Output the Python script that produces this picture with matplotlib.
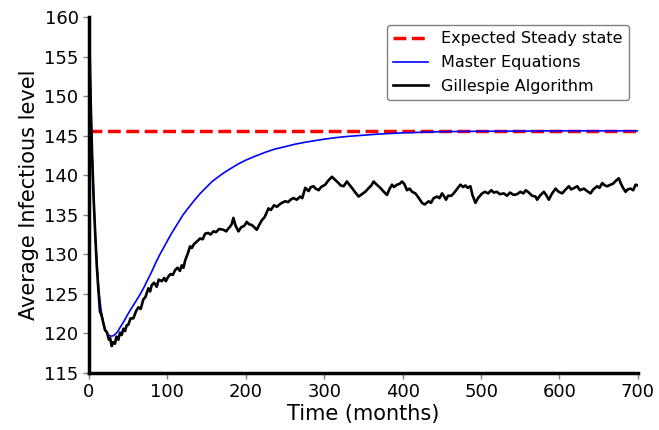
import matplotlib
matplotlib.use("Agg")
from matplotlib import pyplot as plt

# steady state level
steady_state = 145.6

# master equations
me_t = [0, 1, 2, 3, 4, 5, 6, 7, 8, 9, 10, 12, 14, 16, 18, 20, 22, 25, 28, 31,
        34, 37, 40, 45, 50, 55, 60, 65, 70, 75, 80, 85, 90, 95, 100, 105, 110,
        115, 120, 127, 135, 142, 150, 157, 165, 172, 180, 190, 200, 212, 225,
        237, 250, 262, 275, 287, 300, 315, 330, 350, 370, 400, 450, 500, 600,
        700]
me_y = [160, 155, 150.5, 146.5, 143, 140, 137.3, 134.9, 132.7, 130.7, 129,
        126.2, 124.1, 122.6, 121.5, 120.7, 120.2, 119.8, 119.65, 119.7, 119.95,
        120.3, 120.8, 121.6, 122.5, 123.3, 124.1, 124.9, 125.8, 126.8, 127.8,
        128.9, 129.9, 130.8, 131.7, 132.6, 133.4, 134.2, 135.0, 135.9, 136.9,
        137.7, 138.5, 139.2, 139.8, 140.3, 140.8, 141.4, 141.9, 142.4, 142.9,
        143.3, 143.6, 143.9, 144.15, 144.35, 144.55, 144.75, 144.9, 145.05,
        145.2, 145.35, 145.5, 145.55, 145.6, 145.6]

# gillespie algorithm
gi_t = [0, 2, 4, 6, 8, 10, 12, 14, 16, 18.3, 20.5, 22.6, 25.5, 27, 29, 31, 33.2,
        35, 37.5, 39.5, 41.7, 44, 46, 48, 50.2, 53, 56.6, 60, 63, 66, 69.3, 72,
        75.7, 78, 80, 83, 86.4, 89, 92.8, 96, 98, 101.3, 104, 107, 109.8, 113,
        116, 118.3, 120.5, 122.6, 126, 128.9, 131.1, 134, 137.5, 141.7, 145,
        148.1, 152, 155, 158.7, 162, 166, 171.5, 175, 178, 180, 182, 184.2, 187,
        190.6, 194, 198, 201.3, 204, 207.7, 211, 214, 217, 220.4, 224, 228.9,
        232, 236, 239.6, 243, 246, 250.2, 254, 257, 260.8, 265, 269.3, 272,
        275.8, 280, 283, 286.4, 289, 292.8, 296, 301.3, 305, 309.8, 313, 318.3,
        321, 324.7, 328.9, 332, 335.3, 339, 343.8, 348, 352.3, 356, 360, 363,
        367, 371.5, 376, 380, 383, 386.4, 389, 392.8, 396, 399.2, 402, 405.6,
        409, 412, 416.2, 420, 424.7, 428, 433.2, 436, 439.6, 444, 447, 450.2,
        453, 455.3, 458, 462, 465.1, 469, 473.6, 477, 480, 483, 486.4, 489,
        492.8, 496, 501.3, 505, 509, 513, 516.2, 520, 524, 529, 533, 537, 541.7,
        546, 550.2, 554, 557, 560.9, 565, 569.4, 571.5, 575, 580, 583, 586.4,
        590, 594.9, 599, 603.4, 607, 611.9, 615, 619, 622.6, 626, 631.1, 635,
        639.6, 643, 648.1, 651, 654.5, 658, 661, 665.1, 668, 672, 675.7, 678,
        681, 684.3, 687, 690.7, 694, 697, 700]
gi_y = [160, 150, 142.5, 137, 132.5, 128.5, 125.5, 122.8, 122.3, 121.3, 120.4,
        120.2, 119.2, 119.4, 118.4, 118.9, 118.7, 119.6, 119.2, 120.1, 119.8,
        120.6, 120.3, 121.0, 121.1, 121.9, 121.9, 122.8, 123.3, 123.1, 124.3,
        124.6, 125.7, 125.3, 126.1, 126.4, 125.9, 126.8, 126.6, 127.0, 126.6,
        127.2, 127.5, 127.4, 128.0, 128.3, 127.9, 128.6, 128.3, 129.2, 130.1,
        131.0, 130.8, 131.3, 131.6, 132.0, 131.9, 132.6, 132.7, 132.5, 132.9,
        132.8, 133.2, 133.1, 132.9, 133.3, 133.5, 133.8, 134.6, 133.6, 132.9,
        133.4, 133.6, 134.1, 133.8, 133.7, 133.4, 133.1, 133.7, 134.3, 134.7,
        135.8, 135.6, 136.2, 136.0, 136.3, 136.5, 136.7, 136.6, 136.9, 137.1,
        136.9, 137.3, 137.1, 138.4, 138.0, 138.5, 138.6, 138.3, 138.1, 138.5,
        138.8, 139.3, 139.8, 139.5, 139.0, 138.7, 138.6, 139.2, 138.8, 138.4,
        137.9, 137.3, 137.6, 137.9, 138.3, 138.7, 139.2, 138.8, 138.4, 137.9,
        137.5, 138.2, 138.8, 138.5, 138.8, 138.9, 139.2, 138.9, 138.1, 138.3,
        137.9, 137.7, 137.2, 136.5, 136.3, 136.7, 136.5, 137.1, 137.3, 137.1,
        137.7, 137.3, 136.9, 137.4, 137.4, 137.7, 138.2, 138.8, 138.5, 138.7,
        138.4, 138.6, 137.5, 136.5, 137.1, 137.7, 137.9, 137.7, 138.1, 137.8,
        137.9, 137.6, 137.7, 137.4, 137.8, 137.5, 137.6, 137.9, 137.7, 138.1,
        137.8, 137.4, 137.3, 136.9, 137.4, 137.9, 137.5, 136.9, 137.6, 138.3,
        137.9, 137.7, 138.1, 138.6, 138.2, 138.4, 138.6, 138.1, 138.3, 138.0,
        137.7, 138.2, 138.6, 138.4, 139.0, 138.7, 138.6, 138.8, 138.9, 139.3,
        139.6, 139.0, 138.4, 137.9, 138.2, 138.3, 138.1, 138.8, 138.7]

fig = plt.figure(figsize=(6.59, 4.30), dpi=100)
ax = fig.add_axes([0.135, 0.1326, 0.833, 0.828])

ax.plot([0, 700], [steady_state, steady_state], "r--", lw=2.5,
        label="Expected Steady state")
ax.plot(me_t, me_y, color="blue", lw=1.2, label="Master Equations")
ax.plot(gi_t, gi_y, color="black", lw=1.9, label="Gillespie Algorithm")

ax.set_xlim(0, 700)
ax.set_ylim(115, 160)
ax.set_xticks(range(0, 701, 100))
ax.set_yticks(range(115, 161, 5))
ax.set_xlabel("Time (months)", fontsize=15, labelpad=2)
ax.set_ylabel("Average Infectious level", fontsize=15, labelpad=4)
ax.tick_params(labelsize=13, length=4, color="gray", width=1)

for s in ["top", "right"]:
    ax.spines[s].set_visible(False)
for s in ["left", "bottom"]:
    ax.spines[s].set_linewidth(2.5)

leg = ax.legend(loc="upper right", fontsize=11.5, bbox_to_anchor=(0.9836, 0.9775),
                borderaxespad=0, handlelength=2.2, labelspacing=0.55,
                framealpha=1)
leg.get_frame().set_edgecolor("gray")

fig.savefig("out.png", dpi=100)
